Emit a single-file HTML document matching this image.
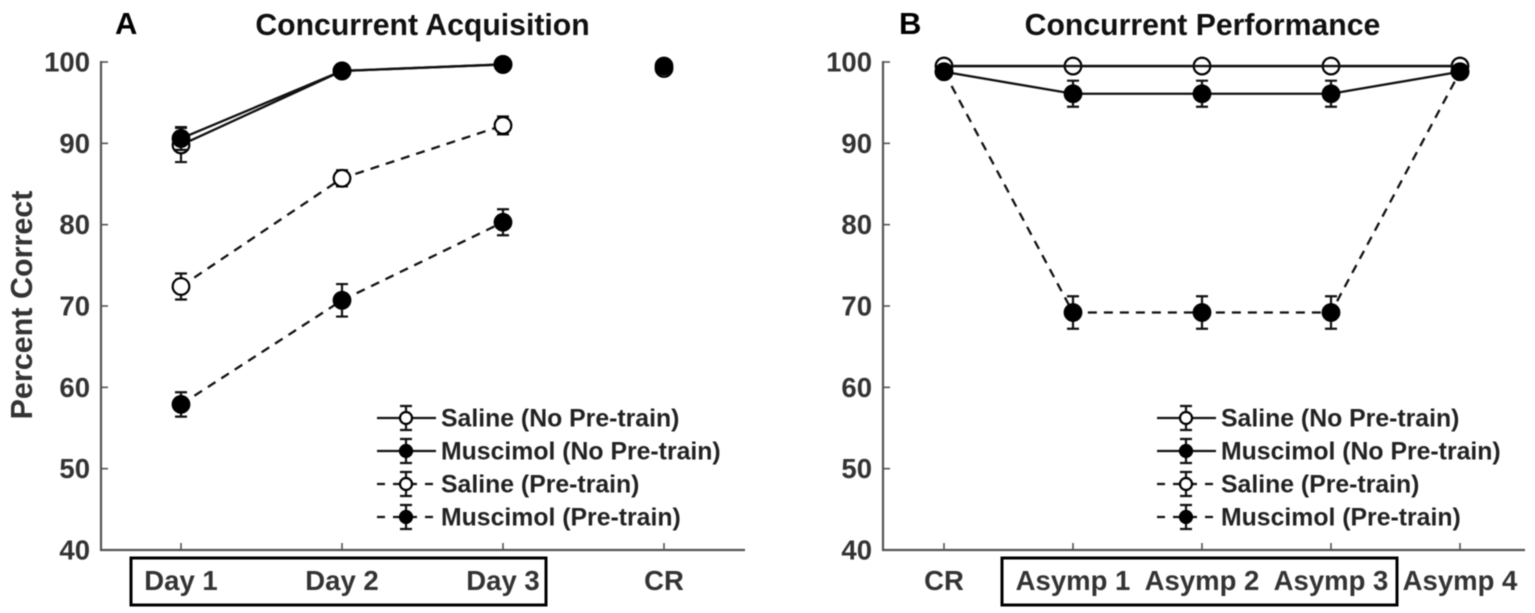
<!DOCTYPE html>
<html>
<head>
<meta charset="utf-8">
<title>Concurrent Acquisition and Performance</title>
<style>
html,body{margin:0;padding:0;background:#fff;}
svg{display:block;filter:blur(0.6px);}
text{font-family:"Liberation Sans",Arial,sans-serif;font-weight:bold;}
</style>
</head>
<body>
<svg id="chart" xmlns="http://www.w3.org/2000/svg" width="1535" height="613" viewBox="0 0 1535 613"></svg>
<script>
// Shared axis data
const yTicks = [40, 50, 60, 70, 80, 90, 100];
const legendLabels = ['Saline (No Pre-train)', 'Muscimol (No Pre-train)', 'Saline (Pre-train)', 'Muscimol (Pre-train)'];

// Panel A data
const catsA = ['Day 1', 'Day 2', 'Day 3', 'CR'];
const salineNoPreA = [89.8, 98.9, 99.7, 99.2];
const salineNoPreErrA = [2.1, 0.3, 0.2, 0.2];
const muscimolNoPreA = [90.6, 98.9, 99.7, 99.5];
const muscimolNoPreErrA = [1.4, 0.3, 0.2, 0.2];
const salinePreA = [72.4, 85.7, 92.2];
const salinePreErrA = [1.6, 1.0, 1.1];
const muscimolPreA = [57.9, 70.7, 80.3];
const muscimolPreErrA = [1.5, 2.0, 1.6];

// Panel B data
const catsB = ['CR', 'Asymp 1', 'Asymp 2', 'Asymp 3', 'Asymp 4'];
const salineNoPreB = [99.5, 99.5, 99.5, 99.5, 99.5];
const salineNoPreErrB = [0.2, 0.2, 0.2, 0.2, 0.2];
const muscimolNoPreB = [98.8, 96.1, 96.1, 96.1, 98.8];
const muscimolNoPreErrB = [0.4, 1.6, 1.6, 1.6, 0.4];
const muscimolPreB = [98.8, 69.2, 69.2, 69.2, 98.8];
const muscimolPreErrB = [0.4, 2.0, 2.0, 2.0, 0.4];

const svg = document.getElementById('chart');
const NS = 'http://www.w3.org/2000/svg';
const AXIS = '#555';
const INK = '#111';
const LABEL = '#333';

function mk(tag, attrs, parent, txt) {
  const el = document.createElementNS(NS, tag);
  for (const k in attrs) el.setAttribute(k, attrs[k]);
  if (txt !== undefined) el.textContent = txt;
  (parent || svg).appendChild(el);
  return el;
}
function yPos(v) { return 550 - (v - 40) * (488 / 60); }

function drawAxes(g, left, right, xPos, cats, prefix) {
  const axisY = mk('line', {x1: left, x2: left, y1: 61, y2: 551, stroke: AXIS, 'stroke-width': 2.2}, g);
  
  
  const axisX = mk('line', {x1: left - 1, x2: right, y1: 550, y2: 550, stroke: AXIS, 'stroke-width': 2.2}, g);
  
  
  yTicks.forEach(function (t) {
    const tk = mk('line', {x1: left, x2: left + 7, y1: yPos(t), y2: yPos(t), stroke: AXIS, 'stroke-width': 1.6}, g);
    
    
    const lb = mk('text', {x: left - 11, y: yPos(t) + 9.5, 'text-anchor': 'end', 'font-size': 27.5, fill: LABEL}, g, String(t));
    
    
  });
  cats.forEach(function (c, i) {
    const tk = mk('line', {x1: xPos(i), x2: xPos(i), y1: 550, y2: 543, stroke: AXIS, 'stroke-width': 1.6}, g);
    
    
    const lb = mk('text', {x: xPos(i), y: 590, 'text-anchor': 'middle', 'font-size': 27.5, fill: LABEL}, g, c);
    
    
  });
}

function drawLine(g, values, xPos, count, dashed, name) {
  let pts = [];
  for (let i = 0; i < count; i++) pts.push(xPos(i) + ',' + yPos(values[i]));
  const attrs = {points: pts.join(' '), fill: 'none', stroke: INK, 'stroke-width': 2.3};
  if (dashed) attrs['stroke-dasharray'] = '9 7';
  const pl = mk('polyline', attrs, g);
  
  
}

function drawMarker(g, x, y, err, filled, r, name) {
  const top = y - err, bot = y + err;
  const eb = mk('path', {d: 'M' + (x - 6) + ' ' + top + 'H' + (x + 6) + 'M' + (x - 6) + ' ' + bot + 'H' + (x + 6) + 'M' + x + ' ' + top + 'V' + bot, stroke: INK, 'stroke-width': 2.2, fill: 'none'}, g);
  
  
  const c = mk('circle', {cx: x, cy: y, r: r, fill: filled ? '#000' : '#fff', stroke: '#000', 'stroke-width': 2.2}, g);
  
  
}

function drawSeries(g, values, errs, xPos, filled, name) {
  values.forEach(function (v, i) {
    const e = errs[i] * (488 / 60);
    drawMarker(g, xPos(i), yPos(v), e, filled, 8.3, name);
  });
}

function drawLegend(g, dx, prefix) {
  const rows = [418, 451, 484, 517];
  legendLabels.forEach(function (lab, i) {
    const y = rows[i];
    const dashed = i >= 2;
    const filled = i % 2 === 1;
    const attrs = {x1: 377 + dx, x2: 436 + dx, y1: y, y2: y, stroke: INK, 'stroke-width': 2.2};
    if (dashed) attrs['stroke-dasharray'] = '8 8 24 8 8 8';
    const ln = mk('line', attrs, g);
    
    
    drawMarker(g, 406 + dx, y, 12, filled, 6, prefix + '-legend');
    const t = mk('text', {x: 441 + dx, y: y + 8.5, 'font-size': 24.8, fill: '#222'}, g, lab);
    
    
  });
}

// Panel A
const gA = mk('g', {});


const xA = function (i) { return 181 + i * 161; };
drawAxes(gA, 101, 745, xA, catsA, 'panel-a');
drawLine(gA, salinePreA, xA, 3, true, 'saline-pre-a');
drawLine(gA, muscimolPreA, xA, 3, true, 'muscimol-pre-a');
drawLine(gA, salineNoPreA, xA, 3, false, 'saline-no-pre-a');
drawLine(gA, muscimolNoPreA, xA, 3, false, 'muscimol-no-pre-a');
drawSeries(gA, salinePreA, salinePreErrA, xA, false, 'saline-pre-a');
drawSeries(gA, muscimolPreA, muscimolPreErrA, xA, true, 'muscimol-pre-a');
drawSeries(gA, salineNoPreA, salineNoPreErrA, xA, false, 'saline-no-pre-a');
drawSeries(gA, muscimolNoPreA, muscimolNoPreErrA, xA, true, 'muscimol-no-pre-a');
drawLegend(gA, 0, 'panel-a');

// Panel B
const gB = mk('g', {});


const xB = function (i) { return 944 + i * 129; };
drawAxes(gB, 883, 1525, xB, catsB, 'panel-b');
drawLine(gB, muscimolPreB, xB, 5, true, 'muscimol-pre-b');
drawLine(gB, salineNoPreB, xB, 5, false, 'saline-no-pre-b');
drawLine(gB, muscimolNoPreB, xB, 5, false, 'muscimol-no-pre-b');
drawSeries(gB, salineNoPreB, salineNoPreErrB, xB, false, 'saline-no-pre-b');
// re-stroke the solid saline line so it shows through the open markers
drawLine(gB, salineNoPreB, xB, 5, false, 'saline-no-pre-overlay-b');
drawSeries(gB, muscimolPreB, muscimolPreErrB, xB, true, 'muscimol-pre-b');
drawSeries(gB, muscimolNoPreB, muscimolNoPreErrB, xB, true, 'muscimol-no-pre-b');
drawLegend(gB, 780, 'panel-b');

// Titles, panel letters, y title, category boxes
const titleA = mk('text', {x: 422.5, y: 35, 'text-anchor': 'middle', 'font-size': 30.2, fill: '#111'}, gA, 'Concurrent Acquisition');


const titleB = mk('text', {x: 1202.5, y: 35, 'text-anchor': 'middle', 'font-size': 30.2, fill: '#111'}, gB, 'Concurrent Performance');


const letterA = mk('text', {x: 115, y: 34, 'font-size': 31, fill: '#000'}, gA, 'A');


const letterB = mk('text', {x: 899, y: 34, 'font-size': 31, fill: '#000'}, gB, 'B');


const yTitle = mk('text', {x: 0, y: 0, 'text-anchor': 'middle', 'font-size': 30.5, fill: '#333', transform: 'translate(32 305) rotate(-90)'}, gA, 'Percent Correct');


const boxA = mk('rect', {x: 131, y: 558, width: 415, height: 47, fill: 'none', stroke: '#000', 'stroke-width': 3}, gA);


const boxB = mk('rect', {x: 1002, y: 558, width: 395, height: 47, fill: 'none', stroke: '#000', 'stroke-width': 3}, gB);


</script>
</body>
</html>
